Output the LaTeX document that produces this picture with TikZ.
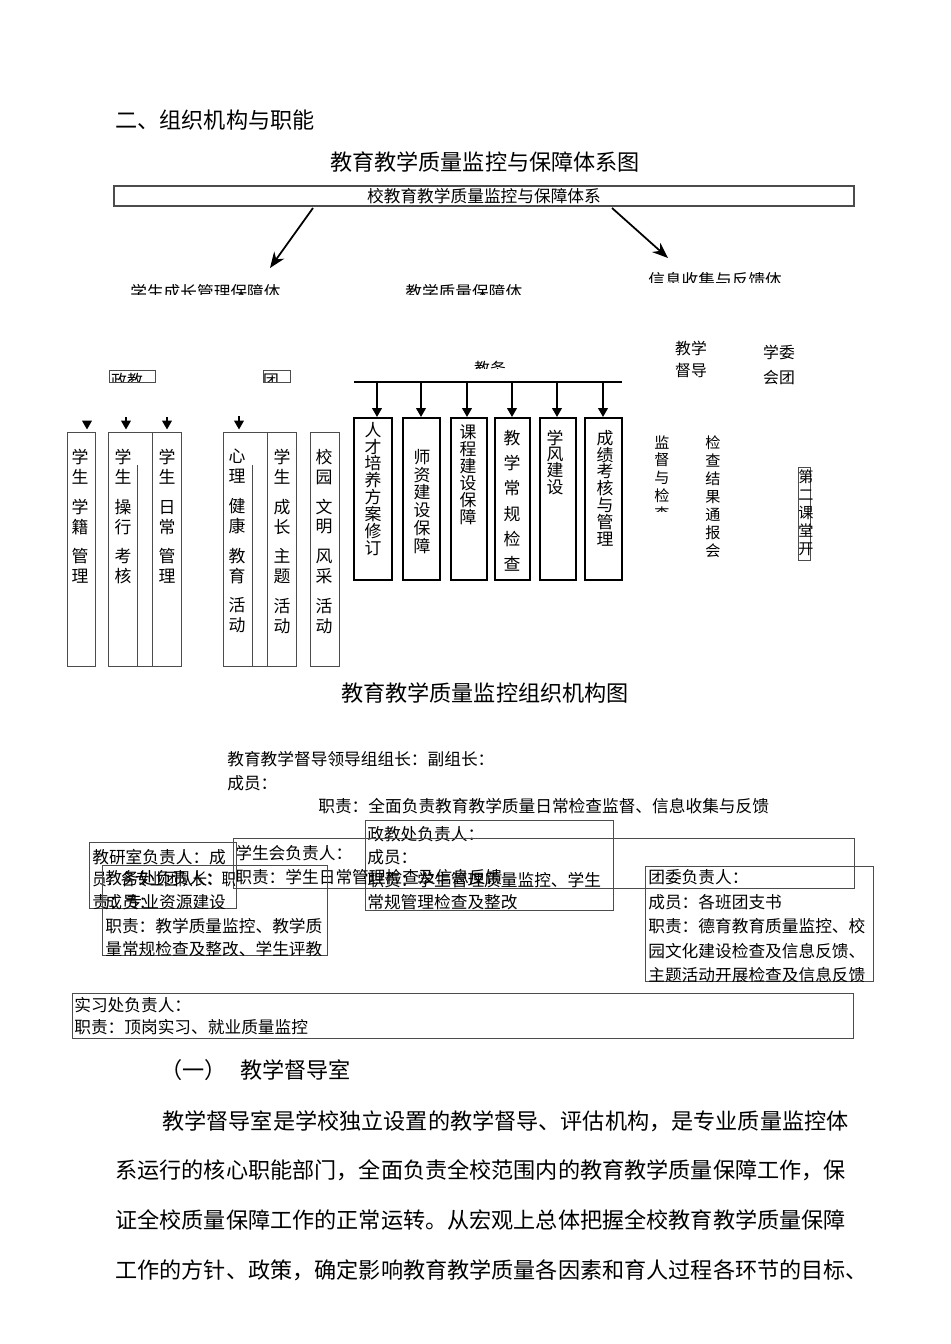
\documentclass[tikz,border=0pt]{standalone}
\usepackage{fontspec}
\usepackage{graphicx}
\setmainfont{Noto Sans CJK SC}
\usetikzlibrary{arrows.meta}

\begin{document}
\begin{tikzpicture}[x=0.02cm, y=-0.02cm,
    bigtxt/.style={font=\fontsize{12.6}{15}\selectfont, inner sep=0pt},
    boxtxt/.style={font=\fontsize{9.5}{13.4}\selectfont, inner sep=0pt, align=left, anchor=north west},
    coltxt/.style={font={\fontsize{9.6}{#1}\selectfont\lineskiplimit=-\maxdimen}, inner sep=0pt, align=center, anchor=north},
    thincol/.style={font={\fontsize{8.6}{#1}\selectfont\lineskiplimit=-\maxdimen}, inner sep=0pt, align=center, anchor=north},
    thinbox/.style={draw=black!70, line width=0.5pt, inner sep=0pt},
    thickbox/.style={draw, line width=1.2pt, inner sep=0pt, minimum height=3.24cm},
    arr/.style={-{Triangle[length=5pt,width=5.5pt]}, line width=0.8pt},
    bigarr/.style={-{Stealth[length=9pt,width=7pt]}, line width=1pt}]

\useasboundingbox (0,0) rectangle (950,1344);
\fill[white] (0,0) rectangle (950,1344);

% Heading and first chart title
\node[bigtxt, anchor=west] (sec) at (115,120) {二、组织机构与职能};
\node[bigtxt] (title1) at (485,162) {教育教学质量监控与保障体系图};

% Top box
\node[thinbox, line width=0.7pt, minimum width=14.8cm, minimum height=0.4cm,
      font=\fontsize{9.5}{11}\selectfont] (top) at (484,196) {校教育教学质量监控与保障体系};

\coordinate (ls) at (313,208);
\coordinate (le) at (270,268);
\coordinate (rs) at (612,208);
\coordinate (re) at (668,258);
\draw[bigarr] (ls) -- (le);
\draw[bigarr] (rs) -- (re);

% Half hidden sub-system labels
\begin{scope}
  \clip (100,270) rectangle (640,295);
  \node[font=\fontsize{9.5}{11}\selectfont, inner sep=0pt, anchor=west] (xscz) at (130,292) {学生成长管理保障体};
  \node[font=\fontsize{9.5}{11}\selectfont, inner sep=0pt, anchor=west] (jxzl) at (405,292) {教学质量保障体};
\end{scope}
\begin{scope}
  \clip (640,260) rectangle (850,283);
  \node[font=\fontsize{9.5}{11}\selectfont, inner sep=0pt, anchor=west] (xxsj) at (648,280) {信息收集与反馈体};
\end{scope}

% Left group: zhengjiao and tuan
\node[thinbox, minimum width=0.92cm, minimum height=0.24cm] (zjbox) at (132,376) {};
\node[thinbox, minimum width=0.54cm, minimum height=0.24cm] (tbox) at (276.5,376) {};
\begin{scope}
  \clip (109,370) rectangle (155,382);
  \node[font=\fontsize{9}{11}\selectfont, inner sep=0pt] (zjtxt) at (127,381) {政教};
\end{scope}
\begin{scope}
  \clip (263,370) rectangle (290,382);
  \node[font=\fontsize{9}{11}\selectfont, inner sep=0pt] (ttxt) at (271,381) {团};
\end{scope}

\node[thinbox, minimum width=0.56cm, minimum height=4.68cm] (xj) at (81,549) {};
\node[thinbox, minimum width=0.88cm, minimum height=4.68cm] (cx) at (130,549) {};
\node[thinbox, minimum width=0.58cm, minimum height=4.68cm] (rc) at (166.5,549) {};
\node[thinbox, minimum width=0.88cm, minimum height=4.68cm] (xl) at (245,549) {};
\node[thinbox, minimum width=0.58cm, minimum height=4.68cm] (cz) at (281.5,549) {};
\node[thinbox, minimum width=0.58cm, minimum height=4.68cm] (wm) at (324.5,549) {};
\coordinate (cxl) at (137,465);
\coordinate (xll) at (252,465);
\draw[black!70, line width=0.5pt] (cxl) -- (cxl |- cx.south);
\draw[black!70, line width=0.5pt] (xll) -- (xll |- xl.south);

\coordinate (z1) at (87,421);
\coordinate (z2) at (126,417);
\coordinate (z3) at (167,417);
\coordinate (z4) at (239,416);
\draw[arr, shorten >=1.2pt] (z1) -- (z1 |- xj.north);
\draw[arr, shorten >=1.2pt] (z2) -- (z2 |- cx.north);
\draw[arr, shorten >=1.2pt] (z3) -- (z3 |- rc.north);
\draw[arr, shorten >=1.2pt] (z4) -- (z4 |- xl.north);

\node[coltxt=11.34pt] (xjt) at (80,448.6) {学\\生\\[5.67pt]学\\籍\\[5.67pt]管\\理};
\node[coltxt=11.34pt] (cxt) at (123,448.6) {学\\生\\[5.67pt]操\\行\\[5.67pt]考\\核};
\node[coltxt=11.34pt] (rct) at (167,448.6) {学\\生\\[5.67pt]日\\常\\[5.67pt]管\\理};
\node[coltxt=11.34pt] (xlt) at (237,448.6) {心\\理\\[5.67pt]健\\康\\[5.67pt]教\\育\\[5.67pt]活\\动};
\node[coltxt=11.34pt] (czt) at (282,448.6) {学\\生\\[5.67pt]成\\长\\[5.67pt]主\\题\\[5.67pt]活\\动};
\node[coltxt=11.34pt] (wmt) at (324,448.6) {校\\园\\[5.67pt]文\\明\\[5.67pt]风\\采\\[5.67pt]活\\动};

% Middle group: jiaowu
\begin{scope}
  \clip (460,350) rectangle (520,369);
  \node[font=\fontsize{9}{11}\selectfont, inner sep=0pt] (jwtxt) at (490,369) {教务};
\end{scope}
\draw[line width=0.8pt] (354,382) -- (622,382);

\node[thickbox, minimum width=0.76cm] (rcpy) at (373,499) {};
\node[thickbox, minimum width=0.74cm] (szjs) at (421.5,499) {};
\node[thickbox, minimum width=0.72cm] (kcjs) at (469,499) {};
\node[thickbox, minimum width=0.70cm] (jxcg) at (512.5,499) {};
\node[thickbox, minimum width=0.72cm] (xfjs) at (558,499) {};
\node[thickbox, minimum width=0.74cm] (cjkh) at (603.5,499) {};

\coordinate (jw1) at (377,382);
\coordinate (jw2) at (421,382);
\coordinate (jw3) at (467,382);
\coordinate (jw4) at (512,382);
\coordinate (jw5) at (557,382);
\coordinate (jw6) at (603,382);
\draw[arr] (jw1) -- (jw1 |- rcpy.north);
\draw[arr] (jw2) -- (jw2 |- szjs.north);
\draw[arr] (jw3) -- (jw3 |- kcjs.north);
\draw[arr] (jw4) -- (jw4 |- jxcg.north);
\draw[arr] (jw5) -- (jw5 |- xfjs.north);
\draw[arr] (jw6) -- (jw6 |- cjkh.north);

\node[coltxt=9.64pt] (rcpyt) at (373,421.6) {人\\才\\培\\养\\方\\案\\修\\订};
\node[coltxt=10.2pt] (szjst) at (422,448.6) {师\\资\\建\\设\\保\\障};
\node[coltxt=9.64pt] (kcjst) at (468,424.6) {课\\程\\建\\设\\保\\障};
\node[coltxt=14.4pt] (jxcgt) at (512,429.6) {教\\学\\常\\规\\检\\查};
\node[coltxt=9.3pt] (xfjst) at (555,429.6) {学\\风\\建\\设};
\node[coltxt=9.64pt] (cjkht) at (605,429.6) {成\\绩\\考\\核\\与\\管\\理};

% Right group: supervision and youth league
\node[font=\fontsize{9}{12.5}\selectfont, inner sep=0pt, align=center] (jxdd) at (691,359) {教学\\督导};
\node[font=\fontsize{9}{14.7}\selectfont, inner sep=0pt, align=center] (xwht) at (779,365) {学委\\会团};
\begin{scope}
  \clip (640,420) rectangle (690,511);
  \node[thincol=10.2pt] (jdjc) at (662,435) {监\\督\\与\\检\\查};
\end{scope}
\node[thincol=10.3pt] (jcjg) at (713,435) {检\\查\\结\\果\\通\\报\\会};
\node[thinbox, minimum width=0.24cm, minimum height=1.86cm] (dektbox) at (804,513.5) {};
\node[thincol=10.3pt] (dekt) at (806,469) {第\\二\\课\\堂\\开};

% Second chart
\node[bigtxt] (title2) at (485,693) {教育教学质量监控组织机构图};

\node[boxtxt, anchor=west] (ld1) at (227,759) {教育教学督导领导组组长：副组长：};
\node[boxtxt, anchor=west] (ld2) at (227,783) {成员：};
\node[boxtxt, anchor=west] (ld3) at (318,806) {职责：全面负责教育教学质量日常检查监督、信息收集与反馈};

% Zhengjiao office
\node[thinbox, minimum width=4.96cm, minimum height=1.8cm] (zjc) at (489,865) {};
\node[boxtxt, font=\fontsize{9.5}{12.9}\selectfont] (zjct) at (367,826.6)
  {政教处负责人：\\成员：\\职责：学生管理质量监控、学生\\常规管理检查及整改};

% Student union
\node[thinbox, minimum width=12.42cm, minimum height=1.0cm] (xsh) at (543.5,863) {};
\node[boxtxt, font=\fontsize{9.5}{13.6}\selectfont] (xsht) at (235,844.6)
  {学生会负责人：\\职责：学生日常管理检查及信息反馈};

% Teaching research office
\node[thinbox, minimum width=2.94cm, minimum height=1.32cm] (jys) at (162.5,875) {};
\begin{scope}
  \clip (89,842) rectangle (236,908);
  \node[boxtxt, font=\fontsize{9.5}{13}\selectfont] (jyst) at (92,848.6)
    {教研室负责人：成\\\scalebox{0.86}[1]{员：各专业团队长：职}\\责：专业资源建设};
\end{scope}

% Academic affairs office
\node[thinbox, minimum width=4.5cm, minimum height=1.8cm] (jwc) at (214.5,910) {};
\begin{scope}
  \clip (102,865) rectangle (327,955);
  \node[boxtxt, font=\fontsize{9.5}{13.4}\selectfont] (jwct) at (105,870.6)
    {教务处负责人：\\成员：\\职责：教学质量监控、教学质\\量常规检查及整改、学生评教};
\end{scope}

% Youth league committee
\node[thinbox, minimum width=4.56cm, minimum height=2.3cm] (twh) at (759,923.5) {};
\begin{scope}
  \clip (645,866) rectangle (873,981);
  \node[boxtxt, font=\fontsize{9.5}{13.9}\selectfont] (twht) at (648,869.6)
    {团委负责人：\\成员：各班团支书\\职责：德育教育质量监控、校\\园文化建设检查及信息反馈、\\主题活动开展检查及信息反馈};
\end{scope}

% Internship office
\node[thinbox, minimum width=15.64cm, minimum height=0.9cm] (sxc) at (463,1015.5) {};
\node[boxtxt, font=\fontsize{9.5}{13}\selectfont] (sxct) at (74,996.6)
  {实习处负责人：\\职责：顶岗实习、就业质量监控};

% Body text
\node[bigtxt, anchor=west] (s1no) at (160,1070) {（一）};
\node[bigtxt, anchor=west] (s1) at (240,1070) {教学督导室};
\node[bigtxt, anchor=west] (p1) at (162,1121) {教学督导室是学校独立设置的教学督导、评估机构，是专业质量监控体};
\node[bigtxt, anchor=west] (p2) at (115,1170) {系运行的核心职能部门，全面负责全校范围内的教育教学质量保障工作，保};
\node[bigtxt, anchor=west] (p3) at (115,1220) {证全校质量保障工作的正常运转。从宏观上总体把握全校教育教学质量保障};
\node[bigtxt, anchor=west] (p4) at (115,1270) {工作的方针、政策，确定影响教育教学质量各因素和育人过程各环节的目标、};

\end{tikzpicture}
\end{document}
